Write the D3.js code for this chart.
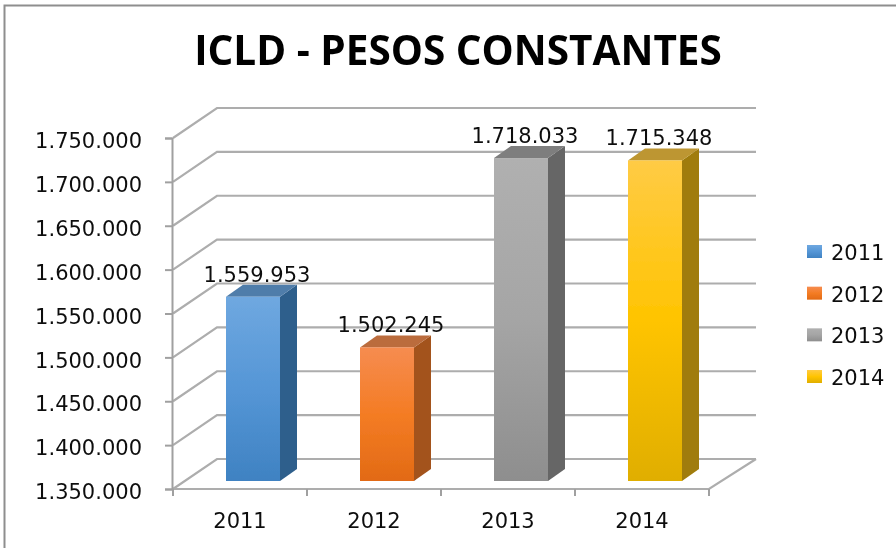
<!DOCTYPE html>
<html>
<head>
<meta charset="utf-8">
<script src="https://cdn.jsdelivr.net/npm/d3@7"></script>
<style>
    html, body { margin: 0; padding: 0; background: #fff; }
    svg { display: block; }
    text { fill: #111; font-family: "DejaVu Sans", sans-serif; font-size: 21px; }
</style>
</head>
<body>
<div id="chart"></div>
<script>
const WIDTH = 896
const HEIGHT = 548

const years = ['2011', '2012', '2013', '2014']
const values = [1559953, 1502245, 1718033, 1715348]
const yTicks = [1350000, 1400000, 1450000, 1500000, 1550000, 1600000, 1650000, 1700000, 1750000]
const topColors = ['#6fa8e0', '#f68c50', '#b0b0b0', '#ffcb45']
const midColors = ['#5596d6', '#f47c24', '#a5a5a5', '#ffc400']
const bottomColors = ['#3f82c2', '#e26a15', '#8e8e8e', '#e0ae00']
const sideColors = ['#2f5f8c', '#a3521c', '#666666', '#a07c08']
const capColors = ['#4f7daa', '#bb6c3c', '#7e7e7e', '#bd9630']

const title = 'ICLD - PESOS CONSTANTES'
const gridColor = '#adadad'
const axisColor = '#a0a0a0'

// es-style thousands, dots instead of commas
const fmt = d3.formatLocale({ decimal: ',', thousands: '.', grouping: [3], currency: ['', ''] }).format(',d')

const x = d3.scaleBand().domain(years).range([173, 709])
const y = d3.scaleLinear().domain([1350000, 1750000]).range([489, 138])

// depth of the fake 3d box: wall is pushed back, bars sit a bit inside the floor
const wall = { dx: 44, dy: -30 }
const barIn = { dx: 13, dy: -8 }
const barDepth = { dx: 17, dy: -12 }
const barW = 54

const svg = d3.select('#chart').append('svg').attr('width', WIDTH).attr('height', HEIGHT)
const defs = svg.append('defs')

const blur = defs.append('filter').attr('id', 'soft')
    .attr('x', '-5%').attr('y', '-5%').attr('width', '110%').attr('height', '110%')
blur.append('feGaussianBlur').attr('stdDeviation', 0.45)

years.forEach((year, i) => {
    const grad = defs.append('linearGradient').attr('id', `grad-${year}`)
        .attr('x1', 0).attr('y1', 0).attr('x2', 0).attr('y2', 1)
    grad.append('stop').attr('offset', '0%').attr('stop-color', topColors[i])
    grad.append('stop').attr('offset', '50%').attr('stop-color', midColors[i])
    grad.append('stop').attr('offset', '100%').attr('stop-color', bottomColors[i])
})

// outer frame, only top and left show up in the crop
svg.append('path')
    .attr('d', `M4.5,${HEIGHT} V5.5 H${WIDTH}`)
    .attr('fill', 'none')
    .attr('stroke', '#8e8e8e')
    .attr('stroke-width', 2)

const g = svg.append('g').attr('filter', 'url(#soft)')

g.append('text')
    .attr('x', 458)
    .attr('y', 65)
    .attr('text-anchor', 'middle')
    .style('font-family', '"Open Sans", sans-serif')
    .style('font-size', '40.5px')
    .style('font-weight', 700)
    .style('fill', '#000')
    .text(title)

// gridlines on side + back wall
const [x0, x1] = x.range()
g.append('g').selectAll('path')
    .data(yTicks)
    .enter()
    .append('path')
    .attr('d', d => `M${x0},${y(d)} L${x0 + wall.dx},${y(d) + wall.dy} H${x1 + wall.dx + 3}`)
    .attr('fill', 'none')
    .attr('stroke', gridColor)
    .attr('stroke-width', 2.2)

// floor front and right edge
g.append('path')
    .attr('d', `M${x0},${y(1350000)} H${x1} L${x1 + wall.dx + 3},${y(1350000) + wall.dy}`)
    .attr('fill', 'none')
    .attr('stroke', gridColor)
    .attr('stroke-width', 2.2)

// y axis with library ticks, then x ticks on band edges
const yAxis = g.append('g')
    .attr('transform', `translate(${x0 - 1},0)`)
    .call(d3.axisLeft(y).tickValues(yTicks).tickFormat(fmt).tickSize(7).tickPadding(23))
yAxis.select('.domain').attr('stroke', axisColor).attr('stroke-width', 2)
yAxis.selectAll('.tick line').attr('stroke', axisColor).attr('stroke-width', 2)
yAxis.selectAll('.tick text')
    .attr('dy', '0.46em')
    .attr('fill', '#111')
    .style('font-size', '21px')
    .style('font-family', '"DejaVu Sans", sans-serif')

const xAxis = g.append('g')
    .attr('transform', `translate(0,${y(1350000)})`)
    .call(d3.axisBottom(x).tickSize(0).tickPadding(24))
xAxis.select('.domain').remove()
xAxis.selectAll('.tick text')
    .attr('fill', '#111')
    .style('font-size', '21px')
    .style('font-family', '"DejaVu Sans", sans-serif')

g.append('g').selectAll('line')
    .data(years.map(d => x(d)).concat([x1]))
    .enter()
    .append('line')
    .attr('x1', d => d)
    .attr('x2', d => d)
    .attr('y1', y(1350000))
    .attr('y2', y(1350000) + 7)
    .attr('stroke', axisColor)
    .attr('stroke-width', 2)

// bars: side, cap, then front
const bars = g.append('g').selectAll('g')
    .data(years.map((year, i) => ({ year, value: values[i], i })))
    .enter()
    .append('g')
    .attr('transform', d => `translate(${x(d.year) + (x.bandwidth() - barW) / 2 + barIn.dx},${barIn.dy})`)

bars.append('path')
    .attr('fill', d => sideColors[d.i])
    .attr('d', d => `M${barW},${y(d.value)} l${barDepth.dx},${barDepth.dy} V${y(1350000) + barDepth.dy} l${-barDepth.dx},${-barDepth.dy} Z`)

bars.append('path')
    .attr('fill', d => capColors[d.i])
    .attr('d', d => `M0,${y(d.value)} l${barDepth.dx},${barDepth.dy} h${barW} l${-barDepth.dx},${-barDepth.dy} Z`)

bars.append('rect')
    .attr('width', barW)
    .attr('y', d => y(d.value))
    .attr('height', d => y(1350000) - y(d.value))
    .attr('fill', d => `url(#grad-${d.year})`)

// value labels
g.append('g').selectAll('text')
    .data(values)
    .enter()
    .append('text')
    .attr('x', (d, i) => x(years[i]) + x.bandwidth() / 2 + 17)
    .attr('y', d => y(d) + barIn.dy - 15)
    .attr('text-anchor', 'middle')
    .text(d => fmt(d))

// legend
const legendY = d3.scalePoint().domain(years).range([252, 377])
const legend = g.append('g').selectAll('g')
    .data(years)
    .enter()
    .append('g')
    .attr('transform', d => `translate(807,${legendY(d)})`)

legend.append('rect')
    .attr('y', -7)
    .attr('width', 15)
    .attr('height', 13)
    .attr('fill', d => `url(#grad-${d})`)

legend.append('text')
    .attr('x', 24)
    .attr('y', 8)
    .text(d => d)
</script>
</body>
</html>
